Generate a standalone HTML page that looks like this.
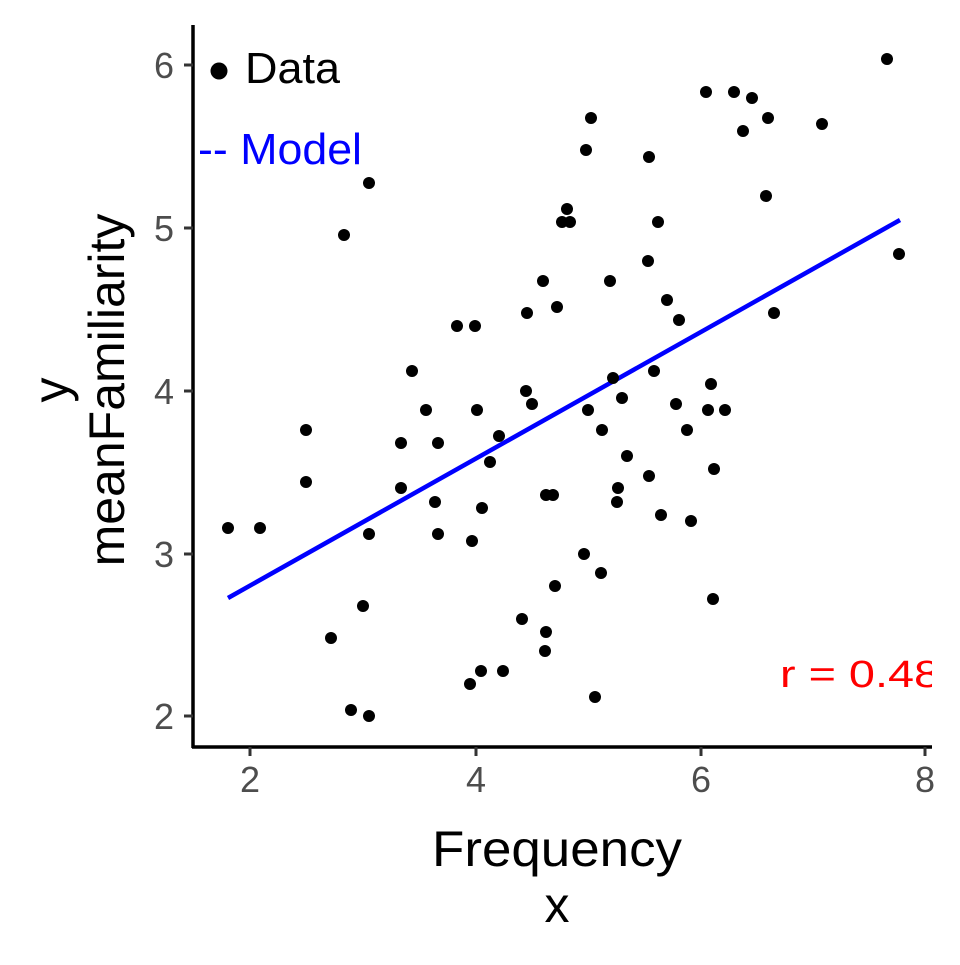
<!DOCTYPE html>
<html><head><style>body{margin:0;background:#fff}</style></head><body>
<svg width="960" height="960" xmlns="http://www.w3.org/2000/svg" font-family="Liberation Sans, Arial, sans-serif">
<rect width="960" height="960" fill="#fff"/>
<defs><clipPath id="c"><rect x="193" y="0" width="739" height="747"/></clipPath></defs>
<g clip-path="url(#c)">
<line x1="228" y1="598" x2="900" y2="220" stroke="#0000ff" stroke-width="4.5"/>
<g fill="#000">
<circle cx="228" cy="528" r="6"/><circle cx="260" cy="528" r="6"/><circle cx="306" cy="430" r="6"/><circle cx="306" cy="482" r="6"/><circle cx="331" cy="638" r="6"/><circle cx="344" cy="235" r="6"/><circle cx="351" cy="710" r="6"/><circle cx="363" cy="606" r="6"/><circle cx="369" cy="716" r="6"/><circle cx="369" cy="183" r="6"/><circle cx="369" cy="534" r="6"/><circle cx="401" cy="443" r="6"/><circle cx="401" cy="488" r="6"/><circle cx="412" cy="371" r="6"/><circle cx="426" cy="410" r="6"/><circle cx="435" cy="502" r="6"/><circle cx="438" cy="443" r="6"/><circle cx="438" cy="534" r="6"/><circle cx="457" cy="326" r="6"/><circle cx="472" cy="541" r="6"/><circle cx="475" cy="326" r="6"/><circle cx="470" cy="684" r="6"/><circle cx="477" cy="410" r="6"/><circle cx="482" cy="508" r="6"/><circle cx="481" cy="671" r="6"/><circle cx="490" cy="462" r="6"/><circle cx="499" cy="436" r="6"/><circle cx="503" cy="671" r="6"/><circle cx="522" cy="619" r="6"/><circle cx="526" cy="391" r="6"/><circle cx="527" cy="313" r="6"/><circle cx="532" cy="404" r="6"/><circle cx="543" cy="281" r="6"/><circle cx="546" cy="495" r="6"/><circle cx="553" cy="495" r="6"/><circle cx="546" cy="632" r="6"/><circle cx="545" cy="651" r="6"/><circle cx="555" cy="586" r="6"/><circle cx="557" cy="307" r="6"/><circle cx="562" cy="222" r="6"/><circle cx="567" cy="209" r="6"/><circle cx="570" cy="222" r="6"/><circle cx="584" cy="554" r="6"/><circle cx="586" cy="150" r="6"/><circle cx="591" cy="118" r="6"/><circle cx="588" cy="410" r="6"/><circle cx="595" cy="697" r="6"/><circle cx="602" cy="430" r="6"/><circle cx="601" cy="573" r="6"/><circle cx="610" cy="281" r="6"/><circle cx="613" cy="378" r="6"/><circle cx="618" cy="488" r="6"/><circle cx="617" cy="502" r="6"/><circle cx="622" cy="398" r="6"/><circle cx="627" cy="456" r="6"/><circle cx="649" cy="157" r="6"/><circle cx="648" cy="261" r="6"/><circle cx="649" cy="476" r="6"/><circle cx="654" cy="371" r="6"/><circle cx="658" cy="222" r="6"/><circle cx="661" cy="515" r="6"/><circle cx="667" cy="300" r="6"/><circle cx="676" cy="404" r="6"/><circle cx="679" cy="320" r="6"/><circle cx="687" cy="430" r="6"/><circle cx="691" cy="521" r="6"/><circle cx="706" cy="92" r="6"/><circle cx="711" cy="384" r="6"/><circle cx="708" cy="410" r="6"/><circle cx="713" cy="599" r="6"/><circle cx="714" cy="469" r="6"/><circle cx="725" cy="410" r="6"/><circle cx="734" cy="92" r="6"/><circle cx="743" cy="131" r="6"/><circle cx="752" cy="98" r="6"/><circle cx="766" cy="196" r="6"/><circle cx="768" cy="118" r="6"/><circle cx="774" cy="313" r="6"/><circle cx="822" cy="124" r="6"/><circle cx="887" cy="59" r="6"/><circle cx="899" cy="254" r="6"/>
</g>
<text x="780" y="687" font-size="38" fill="#ff0000" textLength="160" lengthAdjust="spacingAndGlyphs">r = 0.48</text>
</g>
<circle cx="219" cy="71" r="8.5" fill="#000"/>
<text x="245" y="83" font-size="44" fill="#000" textLength="95" lengthAdjust="spacingAndGlyphs">Data</text>
<text x="198" y="164" font-size="44" fill="#0000ff" textLength="164" lengthAdjust="spacingAndGlyphs">-- Model</text>
<line x1="193" y1="25" x2="193" y2="748" stroke="#000" stroke-width="3.5"/>
<line x1="192" y1="747" x2="932" y2="747" stroke="#000" stroke-width="3.5"/>
<g stroke="#333" stroke-width="3">
<line x1="184" y1="65" x2="193" y2="65"/><line x1="184" y1="228" x2="193" y2="228"/><line x1="184" y1="391" x2="193" y2="391"/><line x1="184" y1="554" x2="193" y2="554"/><line x1="184" y1="716" x2="193" y2="716"/>
<line x1="250" y1="747" x2="250" y2="756"/><line x1="476" y1="747" x2="476" y2="756"/><line x1="701" y1="747" x2="701" y2="756"/><line x1="925" y1="747" x2="925" y2="756"/>
</g>
<g font-size="36" fill="#4d4d4d" text-anchor="end">
<text x="174" y="78">6</text><text x="174" y="241">5</text><text x="174" y="404">4</text><text x="174" y="567">3</text><text x="174" y="729">2</text>
</g>
<g font-size="36" fill="#4d4d4d" text-anchor="middle">
<text x="250" y="792">2</text><text x="476" y="792">4</text><text x="701" y="792">6</text><text x="925" y="792">8</text>
</g>
<g font-size="50" fill="#000" text-anchor="middle">
<text x="557" y="866" textLength="250" lengthAdjust="spacingAndGlyphs">Frequency</text><text x="557" y="922">x</text>
<text transform="translate(68,390) rotate(-90)">y</text>
<text transform="translate(124,390) rotate(-90)">meanFamiliarity</text>
</g>
</svg>
</body></html>
